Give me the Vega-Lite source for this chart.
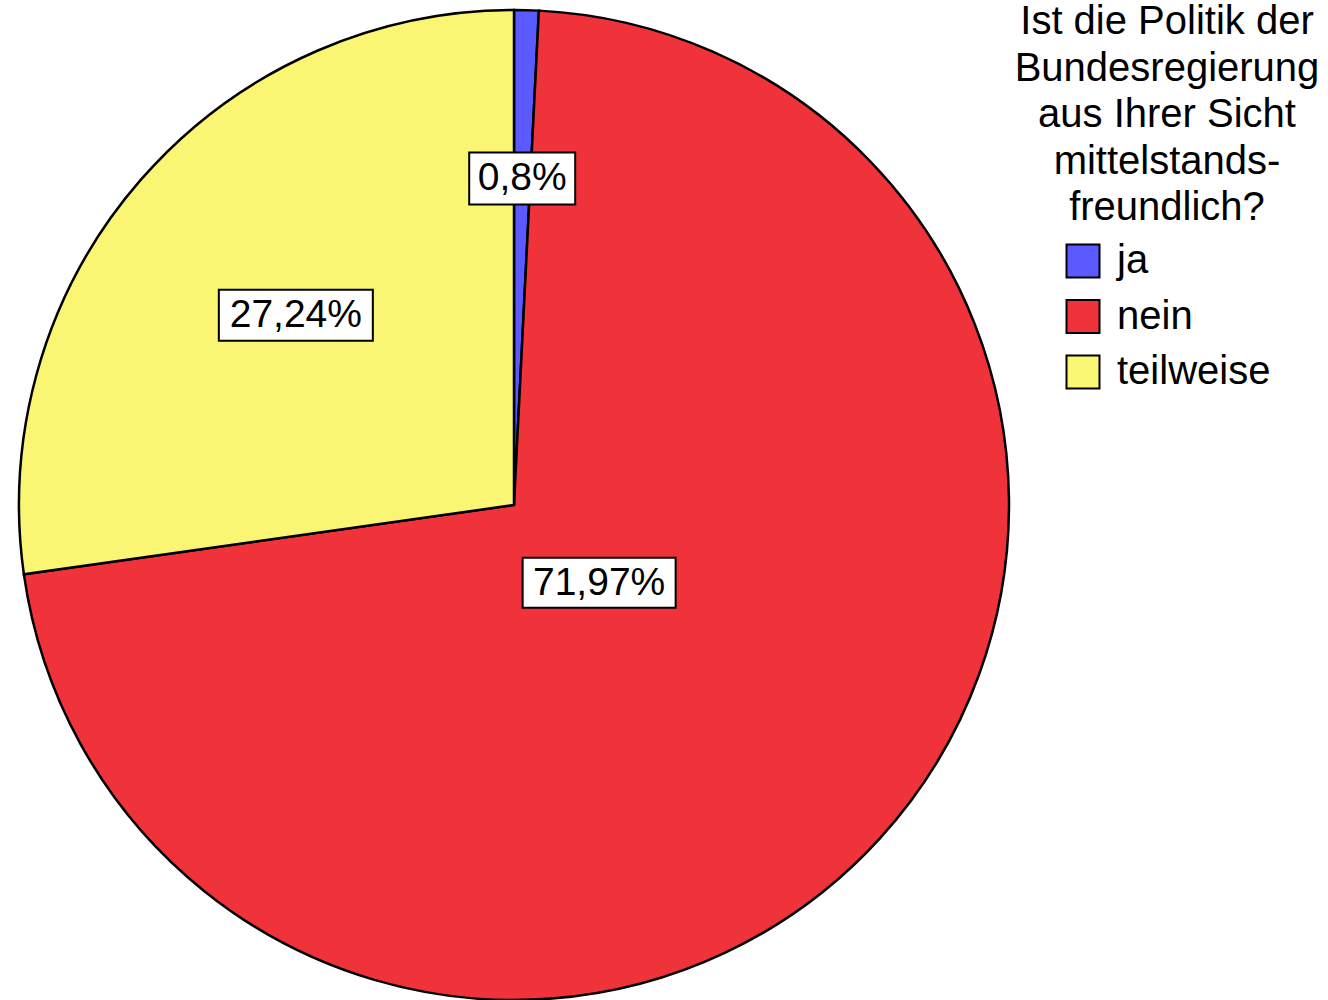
{
  "$schema": "https://vega.github.io/schema/vega-lite/v6.json",
  "width": 1028,
  "height": 990,
  "autosize": {"type": "none"},
  "padding": {"left": 0, "top": 10, "right": 300, "bottom": 0},
  "background": "white",
  "config": {"view": {"stroke": null}, "font": "Liberation Sans"},
  "data": {
    "values": [
      {"antwort": "ja", "prozent": 0.8, "label": "0,8%"},
      {"antwort": "nein", "prozent": 71.97, "label": "71,97%"},
      {"antwort": "teilweise", "prozent": 27.24, "label": "27,24%"}
    ]
  },
  "layer": [
    {
      "mark": {"type": "arc", "outerRadius": 495, "stroke": "black", "strokeWidth": 2.5},
      "encoding": {
        "theta": {"field": "prozent", "type": "quantitative", "stack": true},
        "color": {
          "field": "antwort",
          "type": "nominal",
          "scale": {"domain": ["ja", "nein", "teilweise"], "range": ["#5A5AFF", "#F0323A", "#FAF673"]},
          "legend": {
            "orient": "none",
            "legendX": 1015,
            "legendY": -8,
            "title": ["Ist die Politik der", "Bundesregierung", "aus Ihrer Sicht", "mittelstands-", "freundlich?"],
            "titleFontSize": 40,
            "titleFont": "Liberation Sans",
            "titleFontWeight": "normal",
            "titleColor": "black",
            "titleLineHeight": 46.5,
            "titleAlign": "center",
            "titleAnchor": "middle",
            "titlePadding": 13,
            "titleLimit": 0,
            "labelFontSize": 40,
            "labelFont": "Liberation Sans",
            "labelColor": "black",
            "labelOffset": 14,
            "labelLimit": 0,
            "symbolType": "square",
            "symbolSize": 1089,
            "symbolStrokeColor": "black",
            "symbolStrokeWidth": 2,
            "symbolOpacity": 1,
            "rowPadding": 13.5,
            "padding": 0
          }
        },
        "order": {"field": "antwort", "sort": "ascending"}
      }
    },
    {
      "transform": [
        {"window": [{"op": "sum", "field": "prozent", "as": "cum"}], "sort": [{"field": "antwort", "order": "ascending"}]},
        {"calculate": "(datum.cum - datum.prozent / 2) / 100 * 2 * PI", "as": "mid"},
        {"calculate": "datum.antwort === 'ja' ? 0.66 : datum.antwort === 'nein' ? 0.233 : 0.584", "as": "lr"},
        {"calculate": "datum.lr * sin(datum.mid)", "as": "lx"},
        {"calculate": "datum.lr * cos(datum.mid)", "as": "ly"}
      ],
      "layer": [
        {
          "mark": {"type": "point", "filled": true, "fill": "white", "stroke": "black", "strokeWidth": 2, "opacity": 1, "size": 40000},
          "encoding": {
            "x": {"field": "lx", "type": "quantitative", "scale": {"domain": [-1.03838, 1.03838], "nice": false, "zero": false}, "axis": null},
            "y": {"field": "ly", "type": "quantitative", "scale": {"domain": [-1, 1], "nice": false, "zero": false}, "axis": null},
            "shape": {
              "field": "label",
              "type": "nominal",
              "scale": {
                "domain": ["0,8%", "71,97%", "27,24%"],
                "range": ["M-0.53,-0.26H0.53V0.26H-0.53Z", "M-0.765,-0.25H0.765V0.25H-0.765Z", "M-0.77,-0.255H0.77V0.255H-0.77Z"]
              },
              "legend": null
            }
          }
        },
        {
          "mark": {"type": "text", "font": "Liberation Sans", "fontSize": 39, "color": "black", "align": "center", "baseline": "middle"},
          "encoding": {
            "x": {"field": "lx", "type": "quantitative"},
            "y": {"field": "ly", "type": "quantitative"},
            "text": {"field": "label", "type": "nominal"}
          }
        }
      ]
    }
  ]
}
